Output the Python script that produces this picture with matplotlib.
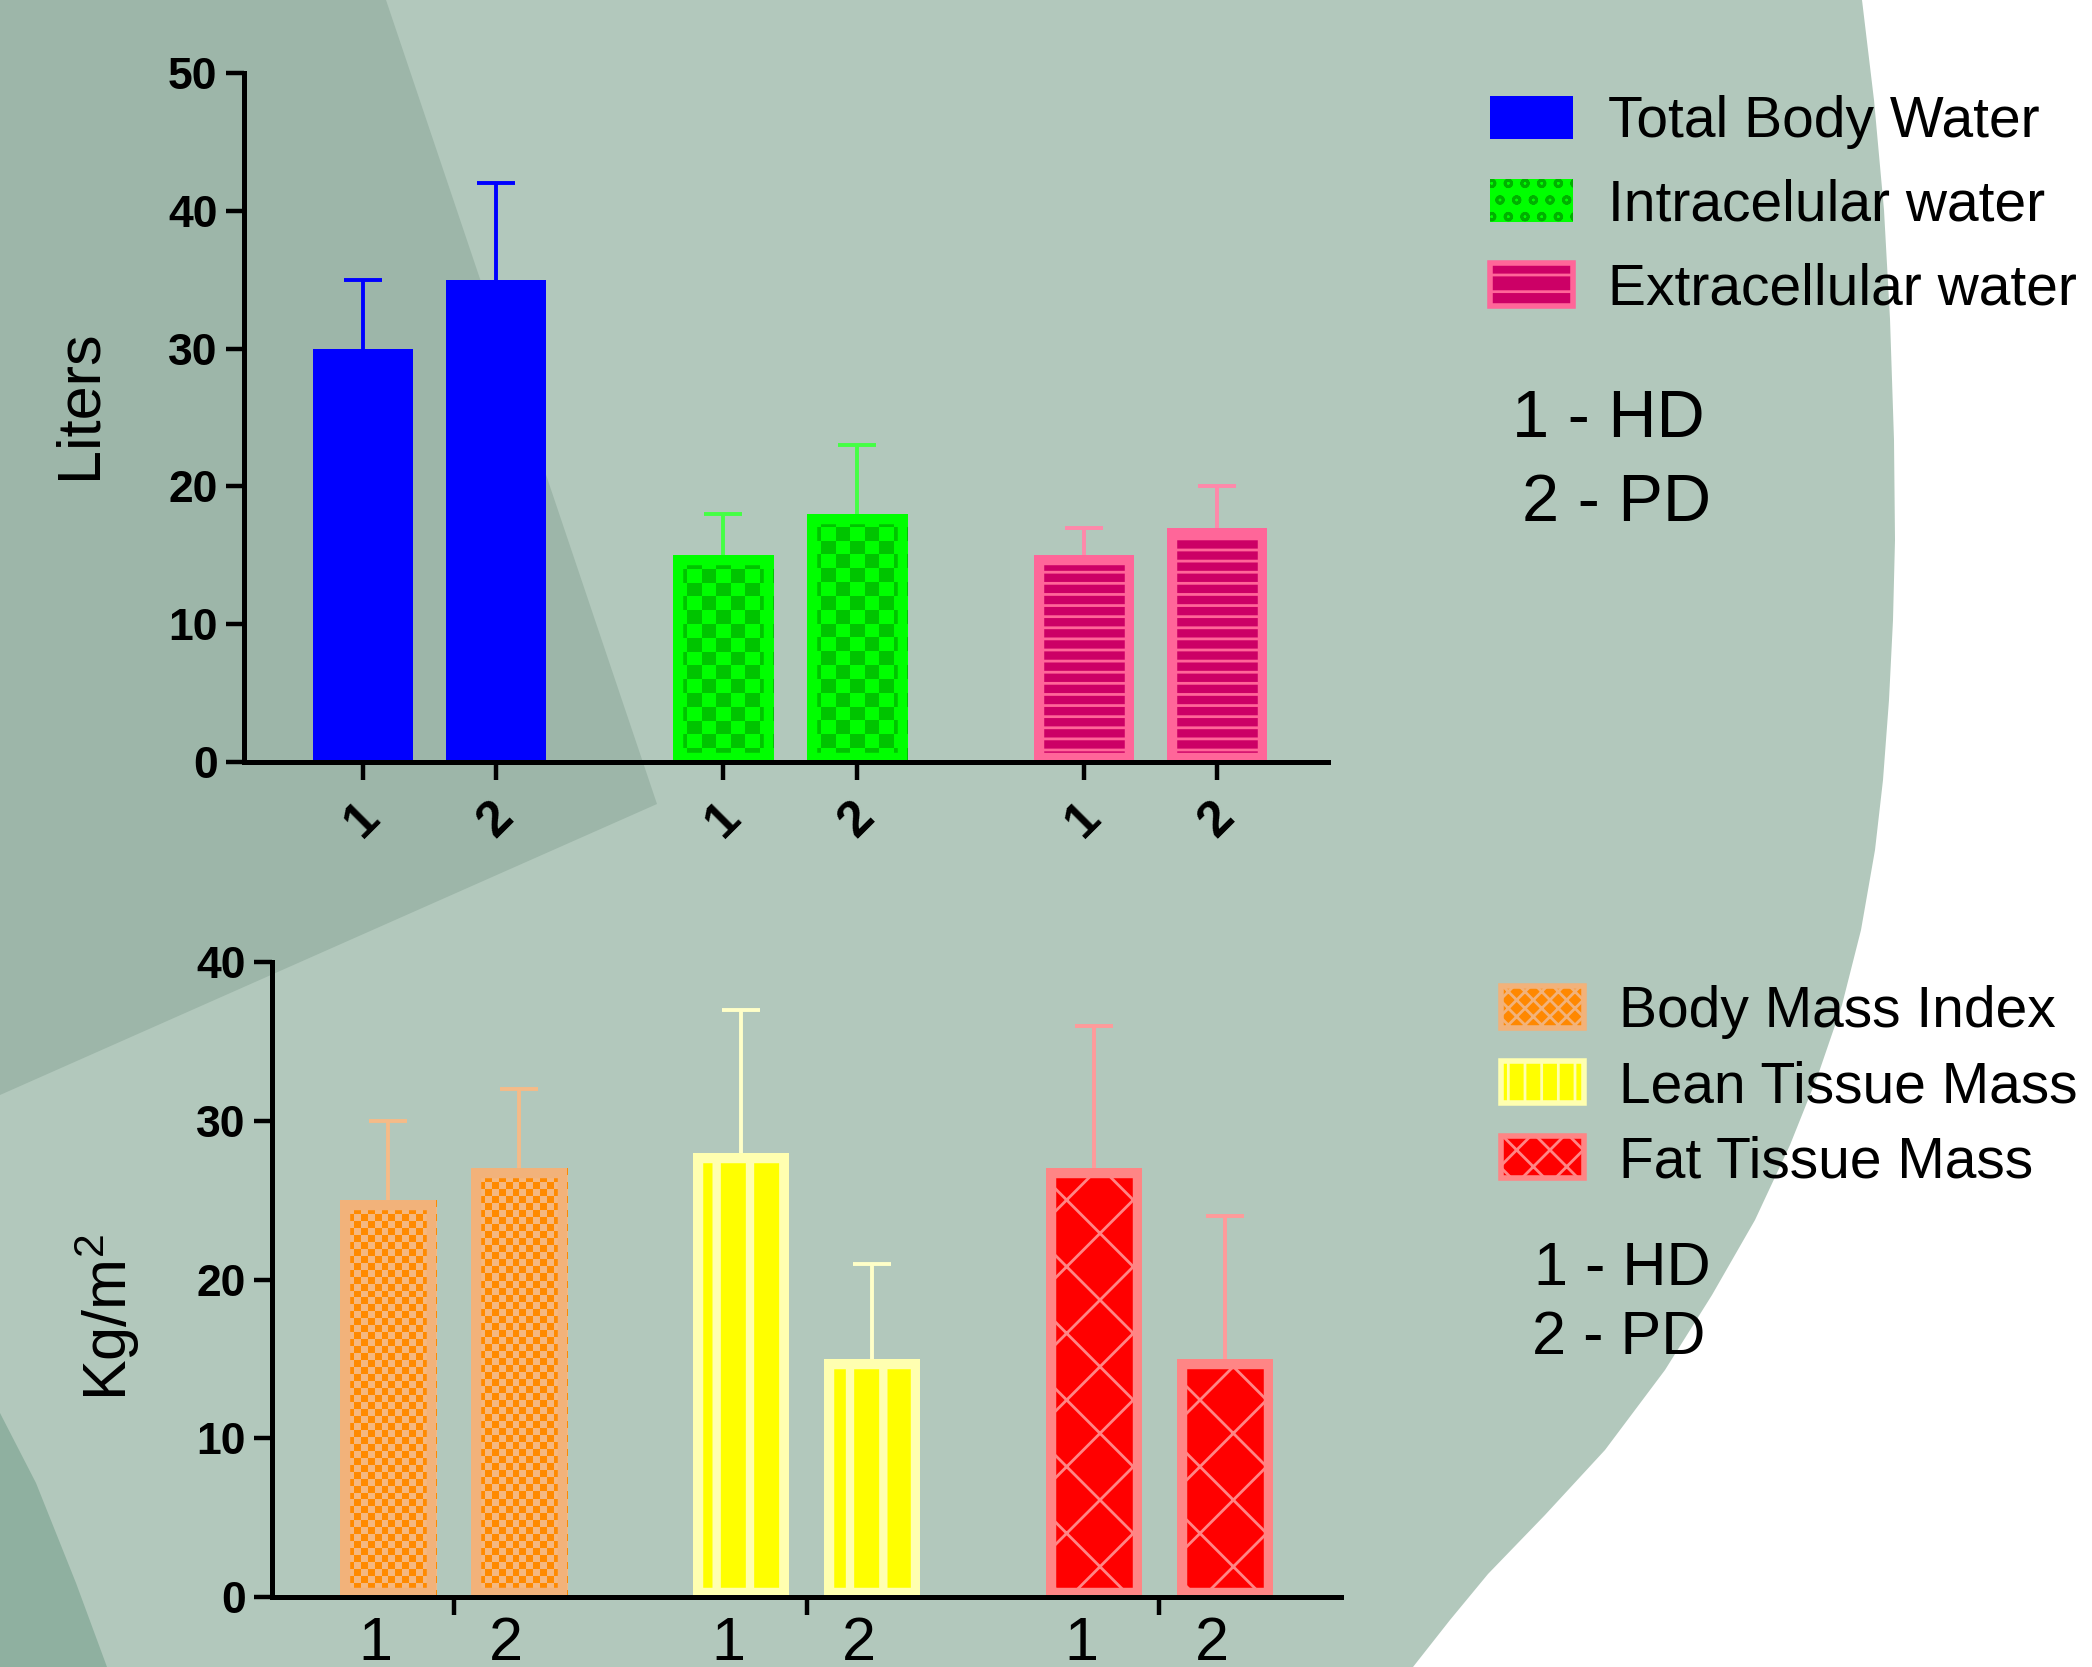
import numpy as np
import matplotlib
matplotlib.use('Agg')
import matplotlib.pyplot as plt
from matplotlib.patches import Polygon, Patch

plt.rcParams['font.family'] = ['Liberation Sans', 'DejaVu Sans']
plt.rcParams['hatch.linewidth'] = 1.0

# top chart: body water in liters, mean and upper SD, bar 1 = HD, bar 2 = PD
water_labels = ['Total Body Water', 'Intracelular water', 'Extracellular water']
water_mean = [[30, 35], [15, 18], [15, 17]]
water_sd = [[5, 7], [3, 5], [2, 3]]

# bottom chart: body mass, Kg/m2
mass_labels = ['Body Mass Index', 'Lean Tissue Mass', 'Fat Tissue Mass']
mass_mean = [[25, 27], [28, 15], [27, 15]]
mass_sd = [[5, 5], [9, 6], [9, 9]]

group_ticks = ['1', '2']
notes = ['1 - HD', '2 - PD']

W, H = 2092, 1667
DPI = 200
GAP = 2.7

# face, border/hatch colour, hatch, checker (cell px, dark, light), errorbar colour
water_style = [
    dict(face='#0000ff', line='#0000ff', hatch=None, checker=None, err='#0000ff'),
    dict(face='#00ff00', line='#00ff00', hatch=None, checker=(14, '#00c400', '#00ff00'), err='#44ff44'),
    dict(face='#cc0066', line='#ff6699', hatch='---', checker=None, err='#ff88aa'),
]
mass_style = [
    dict(face='#ff8800', line='#f2b27a', hatch=None, checker=(7, '#ff8a00', '#f5b880'), err='#f5bb88'),
    dict(face='#ffff00', line='#ffffb0', hatch='|', checker=None, err='#ffffc8', hlw=3.0),
    dict(face='#ff0000', line='#ff8585', hatch='x', checker=None, err='#ff9a9a'),
]


def px(points):
    return [(x / W, 1 - y / H) for x, y in points]


def draw_bars(ax, means, sds, styles, width, border):
    y_unit = ax.transData.transform((0, 1))[1] - ax.transData.transform((0, 0))[1]
    x_unit = ax.transData.transform((1, 0))[0] - ax.transData.transform((0, 0))[0]
    centers = []
    for g, st in enumerate(styles):
        xs = g * GAP + np.arange(2)
        centers.extend(xs)
        with plt.rc_context({'hatch.linewidth': st.get('hlw', 1.0)}):
            bars = ax.bar(xs, means[g], width, color=st['face'], edgecolor=st['line'],
                          hatch=st['hatch'], linewidth=0, zorder=2)
        if st['checker'] is not None:
            cell, c_dark, c_light = st['checker']
            for r in bars:
                ncol = max(1, int(round(r.get_width() * x_unit / cell)))
                nrow = max(1, int(round(r.get_height() * y_unit / cell)))
                ii, jj = np.indices((nrow, ncol))
                board = ((ii + jj) % 2)[..., None]
                rgb = np.where(board == 1, matplotlib.colors.to_rgb(c_dark),
                               matplotlib.colors.to_rgb(c_light))
                im = ax.imshow(rgb, extent=(r.get_x(), r.get_x() + r.get_width(), 0, r.get_height()),
                               aspect='auto', interpolation='nearest', zorder=2.2)
                im.set_clip_path(r)
        outline = ax.bar(xs, means[g], width, fill=False, edgecolor=st['line'],
                         linewidth=border, zorder=2.5)
        for r in outline:
            r.set_clip_path(r)
        eb = ax.errorbar(xs, means[g], yerr=[np.zeros(2), sds[g]], fmt='none', ecolor=st['err'],
                         elinewidth=1.4, capsize=7, capthick=1.4, zorder=1.5)
        # upper SD only: drop the cap at the bar top
        eb[1][0].remove()
    return np.array(centers)


def style_axes(ax):
    ax.set_facecolor('none')
    for s in ['top', 'right']:
        ax.spines[s].set_visible(False)
    for s in ['left', 'bottom']:
        ax.spines[s].set_linewidth(1.8)
        ax.spines[s].set_color('black')
    ax.tick_params(axis='both', which='major', length=6.5, width=1.6, direction='out')
    ax.tick_params(axis='y', labelsize=16, pad=3)


def bold_yticks(ax):
    for t in ax.get_yticklabels():
        t.set_fontweight('bold')
        t.set_family(['Liberation Sans Narrow', 'Liberation Sans'])


fig = plt.figure(figsize=(W / DPI, H / DPI), dpi=DPI)
fig.patch.set_facecolor('white')

# slide background
fig.add_artist(Polygon(px([(0, 0), (1862, 0), (1874, 100), (1884, 210), (1890, 319), (1894, 440),
                           (1895, 540), (1893, 620), (1889, 700), (1883, 780), (1875, 850),
                           (1861, 930), (1842, 1005), (1818, 1075), (1790, 1145), (1755, 1220),
                           (1712, 1295), (1665, 1370), (1605, 1450), (1545, 1515), (1488, 1574),
                           (1450, 1620), (1413, 1667), (0, 1667)]),
                       closed=True, transform=fig.transFigure, facecolor='#b2c8bc',
                       edgecolor='none', zorder=-3))
fig.add_artist(Polygon(px([(0, 0), (386, 0), (657, 804), (0, 1095)]), closed=True,
                       transform=fig.transFigure, facecolor='#9db6a9', edgecolor='none', zorder=-2))
fig.add_artist(Polygon(px([(0, 1413), (36, 1483), (76, 1583), (107, 1667), (0, 1667)]), closed=True,
                       transform=fig.transFigure, facecolor='#8fb0a0', edgecolor='none', zorder=-2))

# top chart
ax1 = fig.add_axes([244 / W, 1 - 762 / H, (1328 - 244) / W, (762 - 73) / H])
ax1.set_xlim(-0.89, 7.23)
ax1.set_ylim(0, 50)
c1 = draw_bars(ax1, water_mean, water_sd, water_style, 0.75, 7.0)
ax1.set_xlim(-0.89, 7.23)
ax1.set_ylim(0, 50)
style_axes(ax1)
ax1.set_yticks([0, 10, 20, 30, 40, 50])
bold_yticks(ax1)
ax1.set_xticks(c1)
ax1.set_xticklabels(group_ticks * 3, rotation=45, fontsize=18, fontweight='bold',
                    ha='center', va='top')
ax1.tick_params(axis='x', pad=5)
ax1.set_ylabel('Liters', fontsize=22)
ax1.yaxis.set_label_coords(-0.125, 0.52)

# bottom chart
ax2 = fig.add_axes([272 / W, 1 - 1597 / H, (1341 - 272) / W, (1597 - 962) / H])
ax2.set_xlim(-0.89, 7.29)
ax2.set_ylim(0, 40)
c2 = draw_bars(ax2, mass_mean, mass_sd, mass_style, 0.735, 7.0)
ax2.set_xlim(-0.89, 7.29)
ax2.set_ylim(0, 40)
style_axes(ax2)
ax2.set_yticks([0, 10, 20, 30, 40])
bold_yticks(ax2)
ax2.set_xticks(c2.reshape(3, 2).mean(axis=1))
ax2.set_xticklabels([])
ax2.set_xticks(c2 - 0.1, minor=True)
ax2.set_xticklabels(group_ticks * 3, minor=True, fontsize=22)
ax2.tick_params(axis='x', which='minor', length=0, pad=7)
ax2.set_ylabel(r'$\mathregular{Kg/m^2}$', fontsize=22)
ax2.yaxis.set_label_coords(-0.122, 0.44)

# legends
h1 = [
    Patch(facecolor='#0000ff', edgecolor='#0000ff', linewidth=0),
    Patch(facecolor='#00ff00', edgecolor='#00b000', hatch='oo', linewidth=0),
    Patch(facecolor='#cc0066', edgecolor='#ff6699', hatch='--', linewidth=2),
]
fig.legend(h1, water_labels, loc='upper left', bbox_to_anchor=(1490 / W, 1 - 95 / H),
           frameon=False, fontsize=20.5, handlelength=1.45, handleheight=0.78,
           handletextpad=0.62, labelspacing=0.52, borderpad=0, borderaxespad=0)
h2 = [
    Patch(facecolor='#ff8800', edgecolor='#f2b27a', hatch='xxxx', linewidth=2),
    Patch(facecolor='#ffff00', edgecolor='#ffffb0', hatch='||', linewidth=2),
    Patch(facecolor='#ff0000', edgecolor='#ff8585', hatch='xx', linewidth=2),
]
fig.legend(h2, mass_labels, loc='upper left', bbox_to_anchor=(1501 / W, 1 - 985 / H),
           frameon=False, fontsize=20.5, handlelength=1.45, handleheight=0.75,
           handletextpad=0.62, labelspacing=0.37, borderpad=0, borderaxespad=0)

# group notes
fig.text(1512 / W, 1 - 437 / H, notes[0], fontsize=24, va='baseline')
fig.text(1522 / W, 1 - 521 / H, notes[1], fontsize=24, va='baseline')
fig.text(1534 / W, 1 - 1285 / H, notes[0], fontsize=22, va='baseline')
fig.text(1532 / W, 1 - 1354 / H, notes[1], fontsize=22, va='baseline')

fig.savefig('out.png', dpi=DPI, facecolor=fig.get_facecolor())
